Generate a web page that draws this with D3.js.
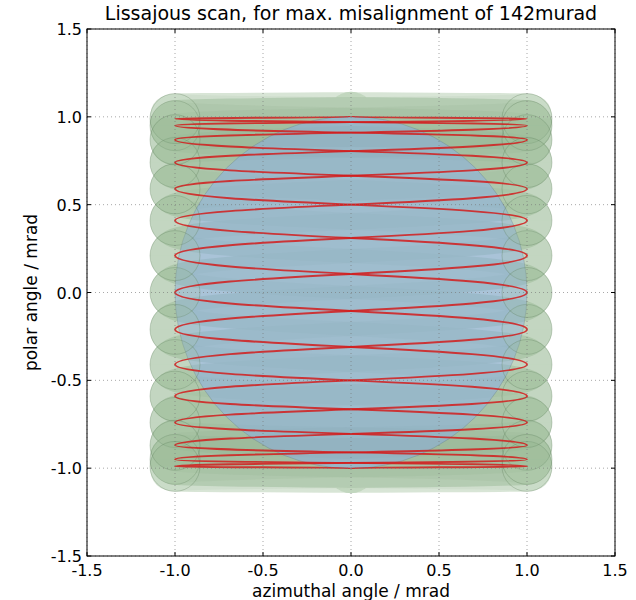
<!DOCTYPE html>
<html><head><meta charset="utf-8">
<script src="https://cdn.jsdelivr.net/npm/d3@7"></script>
<style>body{margin:0;background:#fff} text{font-family:"DejaVu Sans",sans-serif}</style>
</head><body><svg id="c" width="636" height="600"></svg>
<script>
// ---- data ----
const title = "Lissajous scan, for max. misalignment of 142murad";
const xLabel = "azimuthal angle / mrad";
const yLabel = "polar angle / mrad";
const xTicks = [-1.5, -1.0, -0.5, 0.0, 0.5, 1.0, 1.5];
const yTicks = [-1.5, -1.0, -0.5, 0.0, 0.5, 1.0, 1.5];
const scanStart = [0.0, 1.0];
const scanEnd = [0.0, -1.0];
// turning points of the downward pass (the upward pass is its mirror image)
const tipX = [1, -1, 1, -1, 1, -1, 1, -1, 1, -1, 1, -1, 1, -1, 1];
const tipY = [0.99, 0.95, 0.87, 0.74, 0.59, 0.41, 0.21, 0.00, -0.21, -0.41, -0.59, -0.74, -0.87, -0.95, -0.99];
const beamRadius = 0.142;   // mrad
const coverRadius = 1.0;    // mrad

// ---- chart ----
const svg = d3.select("#c");
const x = d3.scaleLinear().domain([-1.5, 1.5]).range([87, 615]);
const y = d3.scaleLinear().domain([-1.5, 1.5]).range([556, 29]);
const fmt = d => d.toFixed(1);

const tips = tipX.map((tx, i) => [tx, tipY[i]]);
const mirTips = tips.map(([a, b]) => [-a, b]);
const down = [scanStart, ...tips, scanEnd];
const up = [scanStart, ...mirTips, scanEnd];
const passes = [down, up];
const allTips = [...tips, ...mirTips];
const line = d3.line().x(d => x(d[0])).y(d => y(d[1])).curve(d3.curveBumpY);
const rPx = x(beamRadius) - x(0);

// coverage: union of circles swept along the scan
passes.forEach(p => {
  svg.append("path").attr("d", line(p)).attr("fill", "none")
    .attr("stroke", "#a9c6a3").attr("stroke-opacity", 0.45).attr("stroke-width", 2 * rPx)
    .attr("stroke-linecap", "round").attr("stroke-linejoin", "round");
});
const gBand = svg.append("g");
[tips, mirTips].forEach(p => {
  d3.pairs(p).forEach(seg => {
    gBand.append("path").attr("d", line(seg))
      .attr("fill", "none").attr("stroke", "#6a9263")
      .attr("stroke-opacity", 0.07).attr("stroke-width", 2 * rPx)
      .attr("stroke-linecap", "butt");
  });
});
// covered region
svg.append("circle").attr("cx", x(0)).attr("cy", y(0)).attr("r", x(coverRadius) - x(0))
  .attr("fill", "#86aaf0").attr("fill-opacity", 0.45)
  .attr("stroke", "#5a6f80").attr("stroke-opacity", 0.3).attr("stroke-width", 1);
// circles at the turning points (slow scan -> denser coverage)
svg.append("g").selectAll("circle").data(allTips).join("circle")
  .attr("cx", d => x(d[0])).attr("cy", d => y(d[1])).attr("r", rPx)
  .attr("fill", "#98ba90").attr("fill-opacity", 0.2)
  .attr("stroke", "#5a7a56").attr("stroke-opacity", 0.3).attr("stroke-width", 1);

// scan path
passes.forEach(p => {
  svg.append("path").attr("d", line(p)).attr("fill", "none")
    .attr("stroke", "#d21c1c").attr("stroke-opacity", 0.85).attr("stroke-width", 1.9);
});

// grid
const gGrid = svg.append("g").attr("stroke", "#777").attr("stroke-width", 0.8)
  .attr("stroke-dasharray", "1,3").attr("opacity", 0.8);
xTicks.forEach(t => gGrid.append("line").attr("x1", x(t)).attr("x2", x(t)).attr("y1", y(1.5)).attr("y2", y(-1.5)));
yTicks.forEach(t => gGrid.append("line").attr("y1", y(t)).attr("y2", y(t)).attr("x1", x(-1.5)).attr("x2", x(1.5)));

// ticks (inside, all four sides)
const gT = svg.append("g").attr("stroke", "#000").attr("stroke-width", 1);
xTicks.forEach(t => {
  gT.append("line").attr("x1", x(t)).attr("x2", x(t)).attr("y1", y(-1.5)).attr("y2", y(-1.5) - 4);
  gT.append("line").attr("x1", x(t)).attr("x2", x(t)).attr("y1", y(1.5)).attr("y2", y(1.5) + 4);
});
yTicks.forEach(t => {
  gT.append("line").attr("y1", y(t)).attr("y2", y(t)).attr("x1", x(-1.5)).attr("x2", x(-1.5) + 4);
  gT.append("line").attr("y1", y(t)).attr("y2", y(t)).attr("x1", x(1.5)).attr("x2", x(1.5) - 4);
});
// frame
svg.append("rect").attr("x", x(-1.5)).attr("y", y(1.5))
  .attr("width", x(1.5) - x(-1.5)).attr("height", y(-1.5) - y(1.5))
  .attr("fill", "none").attr("stroke", "#000").attr("stroke-width", 1);

// tick labels
svg.append("g").selectAll("text").data(xTicks).join("text")
  .attr("x", d => x(d)).attr("y", y(-1.5) + 20).attr("text-anchor", "middle")
  .attr("font-size", 16).text(fmt);
svg.append("g").selectAll("text").data(yTicks).join("text")
  .attr("x", x(-1.5) - 5).attr("y", d => y(d) + 6).attr("text-anchor", "end")
  .attr("font-size", 16).text(fmt);

// titles
svg.append("text").attr("x", (x(-1.5) + x(1.5)) / 2).attr("y", 20)
  .attr("text-anchor", "middle").attr("font-size", 19).text(title);
svg.append("text").attr("x", (x(-1.5) + x(1.5)) / 2).attr("y", 597)
  .attr("text-anchor", "middle").attr("font-size", 17).text(xLabel);
svg.append("text").attr("transform", `translate(37,${(y(1.5) + y(-1.5)) / 2}) rotate(-90)`)
  .attr("text-anchor", "middle").attr("font-size", 17).text(yLabel);
</script></body></html>
